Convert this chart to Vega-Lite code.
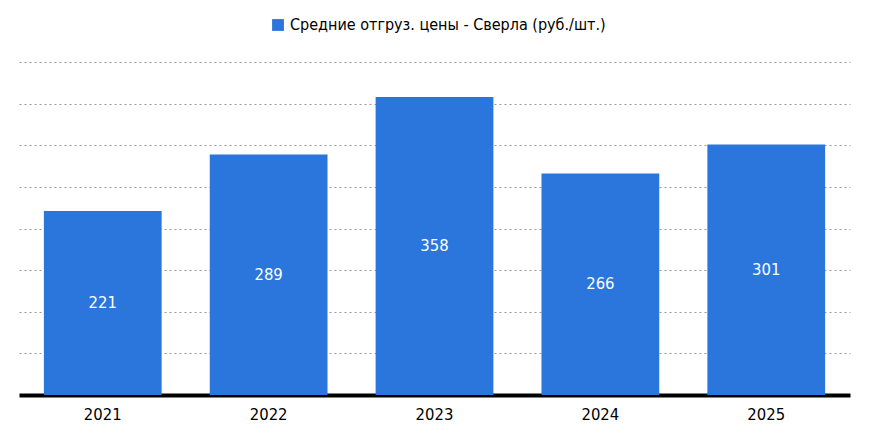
{
  "$schema": "https://vega.github.io/schema/vega-lite/v6.json",
  "width": 831,
  "height": 333,
  "autosize": {"type": "none"},
  "padding": {"left": 19, "top": 62, "right": 19, "bottom": 45},
  "background": "white",
  "config": {
    "view": {"stroke": null},
    "font": "DejaVu Sans Condensed, Roboto Condensed, Roboto, Liberation Sans"
  },
  "data": {
    "values": [
      {"year": "2021", "value": 221, "series": "Средние отгруз. цены - Сверла (руб./шт.)"},
      {"year": "2022", "value": 289, "series": "Средние отгруз. цены - Сверла (руб./шт.)"},
      {"year": "2023", "value": 358, "series": "Средние отгруз. цены - Сверла (руб./шт.)"},
      {"year": "2024", "value": 266, "series": "Средние отгруз. цены - Сверла (руб./шт.)"},
      {"year": "2025", "value": 301, "series": "Средние отгруз. цены - Сверла (руб./шт.)"}
    ]
  },
  "encoding": {
    "x": {
      "field": "year",
      "type": "nominal",
      "title": null,
      "scale": {"paddingInner": 0.29, "paddingOuter": 0.15},
      "axis": {
        "labelAngle": 0,
        "labelFontSize": 16.5,
        "labelColor": "black",
        "labelPadding": 11,
        "ticks": false,
        "domainColor": "black",
        "domainWidth": 4
      }
    }
  },
  "layer": [
    {
      "mark": {"type": "bar", "color": "#2a76dd"},
      "encoding": {
        "y": {
          "field": "value",
          "type": "quantitative",
          "title": null,
          "scale": {"domain": [0, 400]},
          "axis": {
            "values": [50, 100, 150, 200, 250, 300, 350, 400],
            "labels": false,
            "ticks": false,
            "domain": false,
            "gridColor": "#999999",
            "gridDash": [2, 3],
            "gridWidth": 1
          }
        },
        "color": {
          "field": "series",
          "type": "nominal",
          "scale": {"range": ["#2a76dd"]},
          "legend": {
            "title": null,
            "orient": "none",
            "legendX": 251,
            "legendY": -45,
            "symbolType": "square",
            "symbolSize": 140,
            "symbolOpacity": 1,
            "labelFontSize": 16,
            "labelColor": "black",
            "labelLimit": 500
          }
        }
      }
    },
    {
      "mark": {"type": "text", "color": "white", "fontSize": 16.5, "baseline": "middle"},
      "encoding": {
        "y": {
          "field": "value",
          "type": "quantitative",
          "scale": {"domain": [0, 800]},
          "axis": null
        },
        "text": {"field": "value", "type": "quantitative"}
      }
    }
  ],
  "resolve": {"scale": {"y": "independent"}}
}
